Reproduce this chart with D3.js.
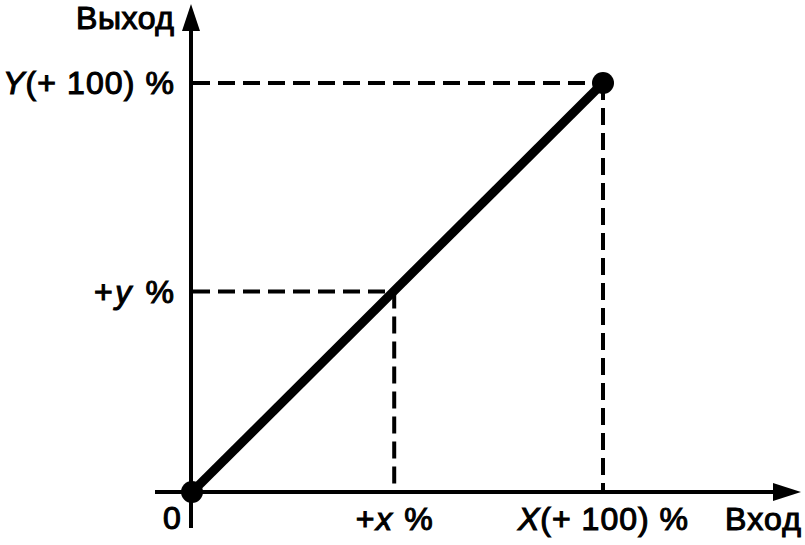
<!DOCTYPE html>
<html><head><meta charset="utf-8">
<script src="https://cdn.jsdelivr.net/npm/d3@7"></script>
<style>
html,body{margin:0;padding:0;background:#fff;}
svg{display:block;}
text{font-family:"Liberation Sans",Arial,sans-serif;font-size:32px;fill:#000;stroke:#000;stroke-width:1.1px;}
</style></head>
<body>
<script>
// Data
const linePoints = [[0, 0], [100, 100]];
const markerPoints = [[0, 0], [100, 100]];
const xTicks = [49.2, 100];
const yTicks = [49, 100];
const xTickLabels = [[["+", 0], ["x", 1], [" %", 0]], [["X", 1], ["(+ 100) %", 0]]];
const yTickLabels = [[["+", 0], ["y", 1], [" %", 0]], [["Y", 1], ["(+ 100) %", 0]]];
const xAxisTitle = "Вход";
const yAxisTitle = "Выход";
const originLabel = "0";

const W = 805, H = 545;
const svg = d3.select("body").append("svg").attr("width", W).attr("height", H);

const x = d3.scaleLinear().domain([0, 100]).range([192, 603]);
const y = d3.scaleLinear().domain([0, 100]).range([492, 83]);

// Axes lines
svg.append("line").attr("x1", 191).attr("x2", 191).attr("y1", 528).attr("y2", 26)
  .attr("stroke", "#000").attr("stroke-width", 4);
svg.append("line").attr("x1", 155).attr("x2", 778).attr("y1", 492).attr("y2", 492)
  .attr("stroke", "#000").attr("stroke-width", 4);
// Arrowheads
svg.append("path").attr("d", "M191,4 L182,31 L200,31 Z").attr("fill", "#000");
svg.append("path").attr("d", "M801,492 L773,483 L773,501 Z").attr("fill", "#000");

// Dashed guides
const dash = "17,8";
xTicks.forEach((v, i) => {
  const yv = yTicks[i];
  svg.append("line").attr("x1", x(v)).attr("x2", x(v)).attr("y1", y(yv)).attr("y2", y(0))
    .attr("stroke", "#000").attr("stroke-width", 4).attr("stroke-dasharray", dash);
  svg.append("line").attr("x1", 193).attr("x2", x(v)).attr("y1", y(yv)).attr("y2", y(yv))
    .attr("stroke", "#000").attr("stroke-width", 4).attr("stroke-dasharray", dash);
});

// Main line
svg.append("path").datum(linePoints)
  .attr("d", d3.line().x(d => x(d[0])).y(d => y(d[1])))
  .attr("stroke", "#000").attr("stroke-width", 9).attr("fill", "none");

// Markers
svg.selectAll("circle.m").data(markerPoints).enter().append("circle")
  .attr("cx", d => x(d[0])).attr("cy", d => y(d[1])).attr("r", 11).attr("fill", "#000");

function richText(parts, px, py, anchor, len) {
  const t = svg.append("text").attr("x", px).attr("y", py).attr("text-anchor", anchor);
  parts.forEach(p => {
    t.append("tspan").text(p[0]).style("font-style", p[1] ? "italic" : "normal");
  });
  if (len) t.attr("textLength", len).attr("lengthAdjust", "spacing");
  return t;
}

// X tick labels
const xLens = [77, 170];
xTicks.forEach((v, i) => {
  richText(xTickLabels[i], x(v), 530, "middle", xLens[i]);
});
// Y tick labels
const yLens = [80, 171];
yTicks.forEach((v, i) => {
  richText(yTickLabels[i], 174, y(v) + 11, "end", yLens[i]);
});

// Origin
svg.append("text").attr("x", 172).attr("y", 529).attr("text-anchor", "middle").text(originLabel);
// Axis titles
svg.append("text").attr("x", 174).attr("y", 29).attr("text-anchor", "end")
  .attr("textLength", 98).attr("lengthAdjust", "spacing").text(yAxisTitle);
svg.append("text").attr("x", 801).attr("y", 530).attr("text-anchor", "end")
  .attr("textLength", 76).attr("lengthAdjust", "spacing").text(xAxisTitle);
</script>
</body></html>
